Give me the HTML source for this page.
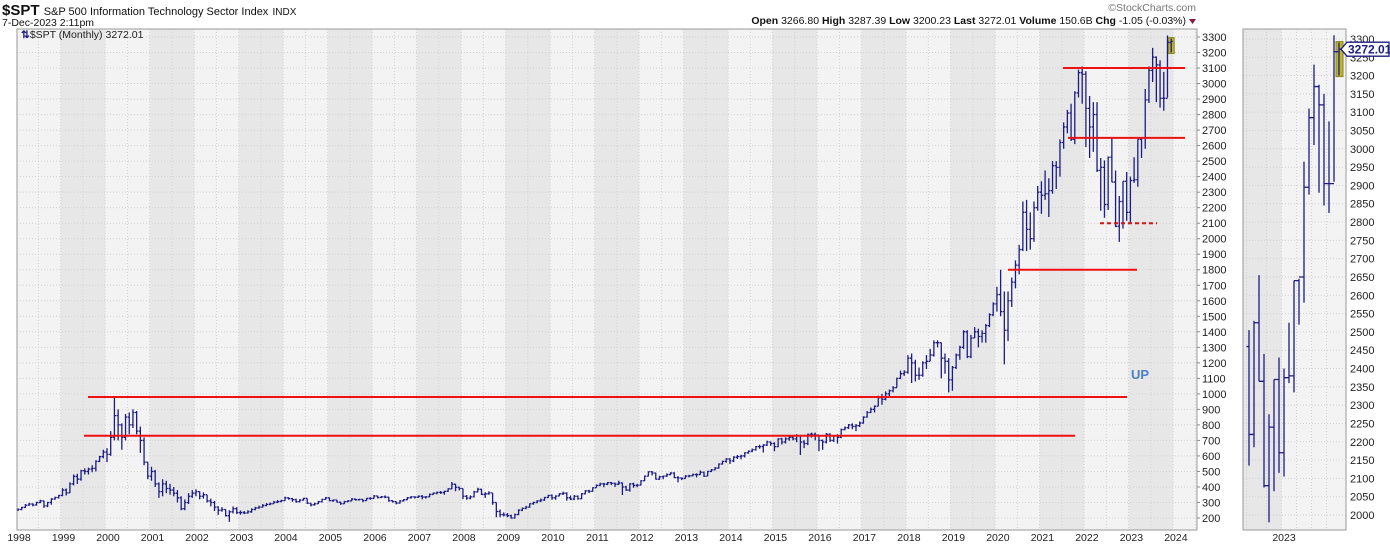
<!DOCTYPE html>
<html><head><meta charset="utf-8"><style>
body{margin:0;background:#fff;width:1390px;height:546px;overflow:hidden;font-family:"Liberation Sans",Arial,sans-serif}
svg text{font-family:"Liberation Sans",Arial,sans-serif}
</style></head><body>
<svg id="chart" width="1390" height="546" xmlns="http://www.w3.org/2000/svg">
<g id="bg"></g>
<g id="grid"></g>
<g id="bars"></g>
<g id="rbars"></g>
<g id="ann"></g>
<g id="axes"></g>
<text x="2" y="15" font-size="15" font-weight="bold" fill="#111">$SPT <tspan font-size="11" font-weight="normal">S&amp;P 500 Information Technology Sector Index</tspan> <tspan font-size="10" font-weight="normal">INDX</tspan></text>
<text x="2" y="26" font-size="10.5" fill="#111">7-Dec-2023 2:11pm</text>
<text x="1196" y="11" font-size="10.5" fill="#777" text-anchor="end">©StockCharts.com</text>
<text x="1186" y="24" font-size="10.5" fill="#111" text-anchor="end"><tspan font-weight="bold">Open</tspan> 3266.80 <tspan font-weight="bold">High</tspan> 3287.39 <tspan font-weight="bold">Low</tspan> 3200.23 <tspan font-weight="bold">Last</tspan> 3272.01 <tspan font-weight="bold">Volume</tspan> 150.6B <tspan font-weight="bold">Chg</tspan> -1.05 (-0.03%)</text>
<polygon points="1189,19 1196,19 1192.5,24" fill="#8b1a3a"/>
<text x="21" y="38" font-size="10.5" fill="#222"><tspan fill="#1a1a80" font-weight="bold">⇅</tspan>$SPT (Monthly) 3272.01</text>
<text x="1131" y="379" font-size="13" font-weight="bold" fill="#4a80c8">UP</text>
</svg>
<script>
const closes=[
255,268,282,290,284,300,310,278,300,322,332,345,
380,362,420,468,450,505,500,515,520,565,595,625,
610,720,860,800,720,850,800,880,760,700,560,470,
500,420,370,420,390,380,360,330,260,300,340,360,
370,340,350,310,300,270,250,255,215,240,260,235,
235,232,240,255,265,270,280,288,292,302,306,312,
330,325,318,305,315,326,295,285,292,305,320,330,
312,316,302,292,305,310,322,318,320,312,326,326,
342,332,336,334,312,305,296,310,318,330,336,334,
340,335,336,352,360,365,364,372,388,418,398,390,
340,328,336,368,385,352,356,362,300,242,222,220,
215,200,222,250,262,270,292,300,310,316,332,345,
330,342,356,360,330,322,340,324,356,375,372,395,
410,420,418,428,424,418,426,400,380,420,410,412,
440,470,498,490,450,466,470,480,490,460,458,455,
470,472,480,480,495,470,500,510,522,548,565,580,
568,592,596,600,620,630,640,660,660,670,690,680,
660,710,690,710,720,710,730,690,680,740,740,735,
700,690,740,700,730,720,770,782,800,790,795,812,
850,880,900,920,975,965,1000,1020,1040,1100,1130,1140,
1230,1200,1120,1120,1200,1210,1250,1330,1330,1230,1210,1090,
1170,1250,1300,1400,1240,1360,1400,1370,1390,1440,1510,1580,
1640,1530,1410,1600,1720,1830,1930,2170,2060,2000,2200,2300,
2280,2290,2310,2470,2460,2620,2720,2810,2640,2940,3070,3060,
2840,2720,2800,2440,2460,2220,2525,2365,2080,2240,2370,2170,
2375,2380,2640,2650,2895,3085,3170,3120,2905,2905,3265,3272];
const highs=[
262,272,290,298,295,305,318,312,305,328,338,350,
392,390,430,480,485,510,520,525,540,572,600,640,
650,760,985,900,810,870,880,900,890,790,720,560,
530,510,430,450,440,420,400,380,340,320,360,380,
385,372,365,350,325,310,275,270,255,250,275,270,
248,245,250,262,272,280,290,296,300,310,315,318,
338,334,330,325,322,330,326,296,298,310,324,336,
332,320,318,305,310,316,328,326,324,322,330,334,
348,344,342,346,336,314,308,315,322,335,342,340,
346,348,342,358,364,370,374,376,392,432,420,402,
390,348,345,375,395,388,366,372,360,300,255,236,
232,222,228,256,268,278,294,305,315,326,336,350,
352,346,360,370,366,345,348,346,360,380,382,398,
416,428,426,432,432,428,440,428,408,425,428,420,
444,474,500,503,492,472,474,488,496,495,470,462,
476,478,486,488,506,500,504,516,528,552,570,586,
586,598,606,608,624,636,648,664,672,676,698,694,
688,714,716,720,730,734,740,736,702,744,750,750,
735,706,748,746,734,740,776,790,806,810,806,822,
856,890,912,926,988,1000,1016,1028,1050,1105,1150,1152,
1250,1260,1220,1170,1210,1250,1290,1345,1345,1330,1260,1230,
1180,1260,1310,1410,1410,1380,1430,1420,1410,1450,1520,1590,
1690,1800,1660,1660,1750,1860,1960,2240,2250,2170,2240,2340,
2370,2440,2390,2500,2500,2640,2750,2830,2870,2950,3090,3110,
3080,2920,2880,2880,2520,2505,2530,2655,2440,2275,2370,2430,
2400,2525,2640,2645,2965,3110,3230,3175,3150,3075,3310,3290];
const lows=[
245,250,265,278,275,280,295,265,270,285,318,325,
340,345,360,410,420,440,480,480,495,500,560,585,
560,600,700,700,640,700,740,780,740,620,540,450,
440,400,330,340,360,350,340,300,250,250,290,330,
340,320,325,300,275,245,220,240,210,175,230,225,
222,225,228,234,250,260,268,276,282,290,296,302,
310,318,305,298,300,312,290,275,280,290,300,318,
308,304,300,285,290,302,308,312,312,302,310,318,
324,326,328,328,305,300,288,292,306,315,325,326,
330,320,325,334,350,352,355,350,368,385,372,378,
322,318,320,332,365,348,330,350,285,205,205,210,
205,195,196,218,244,256,265,285,295,302,310,328,
318,318,340,348,312,315,315,318,322,352,360,370,
395,405,398,412,412,400,412,348,375,370,395,398,
410,438,468,474,448,446,450,464,476,456,430,444,
454,462,468,462,478,464,470,496,508,518,544,556,
548,560,580,578,590,614,624,634,646,622,664,665,
630,656,674,680,698,700,688,606,650,670,718,700,
630,640,680,690,690,680,714,765,774,772,760,786,
808,846,876,880,920,930,958,980,1010,1040,1095,1116,
1130,1070,1080,1090,1110,1160,1210,1240,1300,1100,1130,1010,
1020,1160,1220,1290,1230,1230,1360,1300,1330,1330,1430,1500,
1530,1500,1190,1340,1560,1680,1770,1920,1920,1930,1980,2180,
2160,2250,2140,2290,2320,2400,2580,2680,2630,2610,2910,2870,
2590,2520,2560,2430,2180,2135,2185,2365,2075,1980,2065,2115,
2105,2360,2335,2520,2580,2875,3010,2880,2845,2825,2910,3200];
const years=[1998,1999,2000,2001,2002,2003,2004,2005,2006,2007,2008,2009,2010,2011,2012,2013,2014,2015,2016,2017,2018,2019,2020,2021,2022,2023,2024];
const mainTicks=[200,300,400,500,600,700,800,900,1000,1100,1200,1300,1400,1500,1600,1700,1800,1900,2000,2100,2200,2300,2400,2500,2600,2700,2800,2900,3000,3100,3200,3300];
const rightTicks=[2000,2050,2100,2150,2200,2250,2300,2350,2400,2450,2500,2550,2600,2650,2700,2750,2800,2850,2900,2950,3000,3050,3100,3150,3200,3250,3300];
const levels=[3100,2650,1800,980,730];
const levelStart=[1063,1068,1008,88,84];
const levelEnd=[1185,1185,1137,1127,1075];
const dashedLevel=[2100];

const NS="http://www.w3.org/2000/svg";
const PL=17,PR=1197,PT=29,PB=530, RL=1243,RR=1346;
const xm=m=>18+m*3.708;
const ym=v=>518-(v-200)*0.15516;
const RSTART=closes.length-19;
const xr=i=>1249+i*5;
const yr=v=>515-(v-2000)*0.3662;
function mk(tag,attrs,parent){const e=document.createElementNS(NS,tag);for(const k in attrs)e.setAttribute(k,attrs[k]);document.getElementById(parent).appendChild(e);return e;}
const GC='#d2d2d2', GD='1,2';

let e=mk('rect',{x:PL,y:PT,width:PR-PL,height:PB-PT,fill:'#f3f3f3'},'bg');


e=mk('rect',{x:RL,y:PT,width:RR-RL,height:PB-PT,fill:'#f3f3f3'},'bg');


years.forEach((y,k)=>{
  if(k%2===1 && k<years.length-1){
    const x0=Math.max(PL,xm(12*k)-1.8),x1=Math.min(PR,xm(12*k+12)-1.8);
    const b=mk('rect',{x:x0,y:PT,width:x1-x0,height:PB-PT,fill:'#e7e7e7'},'bg');
    
    
  }
});
e=mk('rect',{x:RL,y:PT,width:xr(6.5)-RL,height:PB-PT,fill:'#e7e7e7'},'bg');



mainTicks.forEach(v=>{
  const g=mk('line',{x1:PL,x2:PR,y1:ym(v),y2:ym(v),stroke:GC,'stroke-dasharray':GD,'stroke-width':1},'grid');
  
  
  const t=mk('text',{x:PR+5,y:ym(v)+4,'font-size':11,fill:'#222'},'axes');t.textContent=v;
  
  
  mk('line',{x1:PR,x2:PR+3,y1:ym(v),y2:ym(v),stroke:'#888'},'axes');
});
for(let h=0;h<years.length*2;h++){
  const x=xm(6*h)-1.8; if(x<=PL||x>=PR) continue;
  const g=mk('line',{x1:x,x2:x,y1:PT,y2:PB,stroke:GC,'stroke-dasharray':GD},'grid');
  
  
}
years.forEach((y,k)=>{
  const t=mk('text',{x:xm(12*k)+1,y:541,'font-size':10.5,fill:'#222','text-anchor':'middle'},'axes');t.textContent=y;
  
  
});
rightTicks.forEach(v=>{
  const g=mk('line',{x1:RL,x2:RR,y1:yr(v),y2:yr(v),stroke:GC,'stroke-dasharray':GD},'grid');
  
  
  const t=mk('text',{x:RR+4,y:yr(v)+4,'font-size':11,fill:'#222'},'axes');t.textContent=v;
  
  
});
[xr(-0.5),xr(3.5),xr(6.5),xr(9.5),xr(12.5),xr(15.5)].forEach(x=>{
  mk('line',{x1:x,x2:x,y1:PT,y2:PB,stroke:GC,'stroke-dasharray':GD},'grid');
});
e=mk('text',{x:xr(7),y:541,'font-size':10.5,fill:'#222','text-anchor':'middle'},'axes');e.textContent='2023';



e=mk('rect',{x:PL,y:PT,width:PR-PL,height:PB-PT,fill:'none',stroke:'#999'},'axes');


e=mk('rect',{x:RL,y:PT,width:RR-RL,height:PB-PT,fill:'none',stroke:'#999'},'axes');



const last=closes.length-1;
e=mk('rect',{x:xm(last)-3,y:ym(highs[last])-1,width:6,height:ym(lows[last])-ym(highs[last])+2,fill:'#bdb52c',stroke:'#8a8420'},'bars');


e=mk('rect',{x:xr(18)-3,y:yr(highs[last])-1,width:7,height:yr(lows[last])-yr(highs[last])+2,fill:'#bdb52c',stroke:'#8a8420'},'rbars');



let d='';
for(let m=0;m<closes.length;m++){
  const x=xm(m),o=m>0?closes[m-1]:closes[m];
  d+=`M${x},${ym(highs[m])}V${ym(lows[m])}M${x-1.6},${ym(o)}H${x}M${x},${ym(closes[m])}H${x+1.6}`;
}
e=mk('path',{d:d,stroke:'#1c1c84','stroke-width':1.3,fill:'none'},'bars');



d='';
for(let i=0;i<19;i++){
  const m=RSTART+i,x=xr(i),o=closes[m-1];
  d+=`M${x},${yr(highs[m])}V${Math.min(yr(lows[m]),PB)}M${x-2.5},${yr(o)}H${x}M${x},${yr(closes[m])}H${x+2.5}`;
}
e=mk('path',{d:d,stroke:'#1c1c84','stroke-width':1.3,fill:'none'},'rbars');



levels.forEach((v,i)=>{
  const l=mk('line',{x1:levelStart[i],x2:levelEnd[i],y1:ym(v),y2:ym(v),stroke:'#ee1111','stroke-width':2},'ann');
  
  
});
dashedLevel.forEach(v=>{
  const l=mk('line',{x1:1100,x2:1157,y1:ym(v),y2:ym(v),stroke:'#dd1111','stroke-width':2,'stroke-dasharray':'4,3'},'ann');
  
  
});

const ly=yr(closes[last]);
e=mk('path',{d:`M1341,${ly}L1347,${ly-7}H1389V${ly+7}H1347Z`,fill:'#fff',stroke:'#1c1c84','stroke-width':1.3},'axes');


e=mk('text',{x:1348,y:ly+4.5,'font-size':12,'font-weight':'bold',fill:'#1c1c84'},'axes');e.textContent='3272.01';


</script>
</body></html>
